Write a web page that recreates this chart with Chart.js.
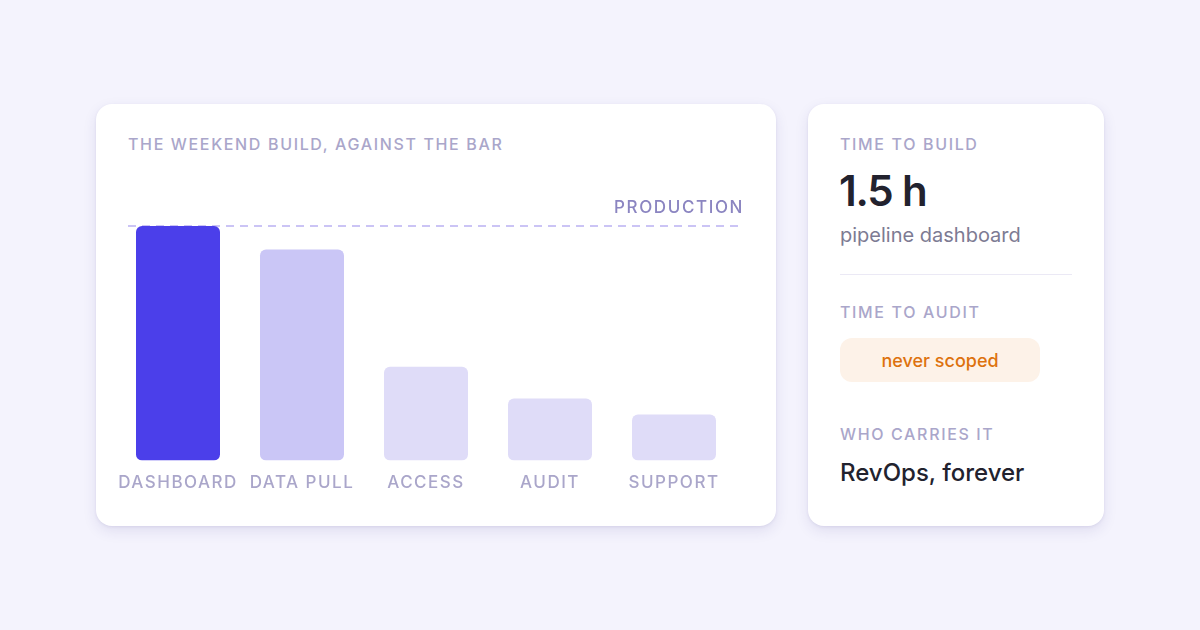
<!DOCTYPE html>
<html>
<head>
<meta charset="utf-8">
<script src="https://cdn.jsdelivr.net/npm/chart.js@4"></script>
<style>
  html,body{margin:0;padding:0;}
  body{width:1200px;height:630px;background:#f4f3fd;position:relative;overflow:hidden;font-family:Inter,"Noto Sans",sans-serif;}
  .card{position:absolute;background:#fff;border-radius:16px;box-shadow:0 5px 14px rgba(50,40,130,0.10),0 1px 3px rgba(50,40,130,0.08);}
  #left{left:96px;top:104px;width:680px;height:422px;}
  #right{left:808px;top:104px;width:296px;height:422px;}
  .cap{position:absolute;font-size:16px;letter-spacing:1.65px;color:#aaa6ca;font-weight:500;white-space:nowrap;}
  #chartWrap{position:absolute;left:0;top:0;width:680px;height:422px;}
  .big{position:absolute;font-size:42px;font-weight:600;color:#22222e;letter-spacing:-1.2px;white-space:nowrap;}
  .sub{position:absolute;font-size:20px;color:#7d7b93;white-space:nowrap;}
  .rule{position:absolute;left:32px;width:232px;height:1px;background:#ebe9f5;}
  .pill{position:absolute;left:32px;width:200px;height:44px;border-radius:12px;background:#fdf2e8;color:#dd720e;font-size:18px;font-weight:500;display:flex;align-items:center;justify-content:center;}
  .who{position:absolute;font-size:24px;font-weight:500;color:#22222e;white-space:nowrap;}
</style>
</head>
<body>
<div class="card" id="left">
  <div class="cap" style="left:32px;top:30px;">THE WEEKEND BUILD, AGAINST THE BAR</div>
  <div id="chartWrap"><canvas id="c" width="680" height="422"></canvas></div>
</div>
<div class="card" id="right">
  <div class="cap" style="left:32px;top:30px;">TIME TO BUILD</div>
  <div class="big" style="left:31px;top:61px;">1.5 h</div>
  <div class="sub" style="left:32px;top:119px;">pipeline dashboard</div>
  <div class="rule" style="top:170px;"></div>
  <div class="cap" style="left:32px;top:198px;">TIME TO AUDIT</div>
  <div class="pill" style="top:234px;">never scoped</div>
  <div class="cap" style="left:32px;top:320px;">WHO CARRIES IT</div>
  <div class="who" style="left:32px;top:354px;">RevOps, forever</div>
</div>
<script>
const categories = ["DASHBOARD", "DATA PULL", "ACCESS", "AUDIT", "SUPPORT"];
const effort = [100, 90, 40, 26.5, 19.7];
const barColors = ["#4b3fea", "#cac6f6", "#dfdcf8", "#dfdcf8", "#dfdcf8"];
const productionLevel = 100;
const productionLabel = "PRODUCTION";

const refLine = {
  id: 'refLine',
  beforeDatasetsDraw(chart) {
    const ctx = chart.ctx, y = chart.scales.y.getPixelForValue(productionLevel);
    const a = chart.chartArea;
    ctx.save();
    ctx.strokeStyle = '#cbc4f5';
    ctx.lineWidth = 2;
    ctx.setLineDash([8, 6]);
    ctx.beginPath();
    ctx.moveTo(a.left + 12, y);
    ctx.lineTo(a.right + 4, y);
    ctx.stroke();
    ctx.setLineDash([]);
    ctx.fillStyle = '#8b85c1';
    ctx.font = '500 17px Inter, "Noto Sans", sans-serif';
    ctx.letterSpacing = '1.6px';
    ctx.textAlign = 'right';
    ctx.textBaseline = 'middle';
    ctx.fillText(productionLabel, a.right + 8, y - 18);
    ctx.restore();
  },
  beforeDraw(chart) { chart.ctx.letterSpacing = '1.5px'; }
};

new Chart(document.getElementById('c'), {
  type: 'bar',
  data: {
    labels: categories,
    datasets: [{
      data: effort,
      backgroundColor: barColors,
      borderRadius: 6,
      borderSkipped: false,
      categoryPercentage: 1,
      barPercentage: 84 / 124
    }]
  },
  options: {
    responsive: false,
    animation: false,
    devicePixelRatio: 1,
    layout: { padding: { left: 20, right: 40, top: 122, bottom: 21 } },
    plugins: { legend: { display: false }, tooltip: { enabled: false } },
    scales: {
      x: {
        grid: { display: false, drawTicks: false },
        border: { display: false },
        ticks: { color: '#aaa6ca', font: { family: 'Inter, "Noto Sans", sans-serif', size: 17, weight: '500' }, padding: 12, maxRotation: 0, autoSkip: false }
      },
      y: { display: false, min: 0, max: productionLevel }
    }
  },
  plugins: [refLine]
});
</script>
</body>
</html>
